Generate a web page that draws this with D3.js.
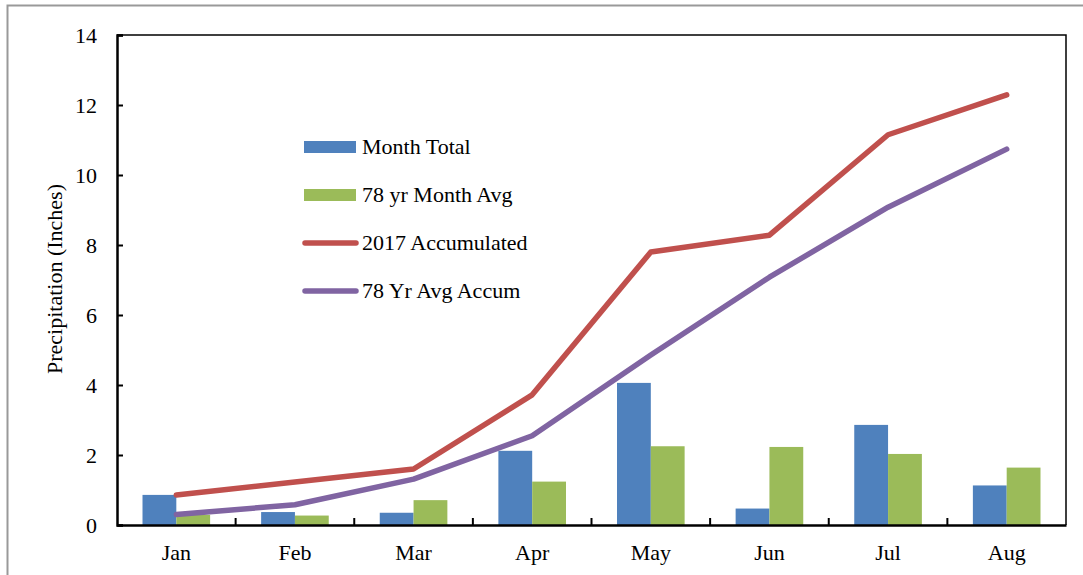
<!DOCTYPE html>
<html>
<head>
<meta charset="utf-8">
<script src="https://cdn.jsdelivr.net/npm/d3@7"></script>
<style>
  body { margin: 0; background: #fff; }
  text { font-family: "Liberation Serif", serif; fill: #000; }
</style>
</head>
<body>
<div id="chart"></div>
<script>
// values (inches)
var months = ['Jan', 'Feb', 'Mar', 'Apr', 'May', 'Jun', 'Jul', 'Aug'];
var monthTotal = [0.86, 0.37, 0.35, 2.12, 4.06, 0.47, 2.86, 1.13];
var monthAvg = [0.29, 0.27, 0.71, 1.24, 2.25, 2.23, 2.03, 1.64];
var accum2017 = [0.86, 1.23, 1.60, 3.72, 7.80, 8.28, 11.15, 12.29];
var avgAccum = [0.30, 0.58, 1.31, 2.55, 4.86, 7.08, 9.08, 10.74];
var yTicks = [0, 2, 4, 6, 8, 10, 12, 14];

var barSeries = [
    {name: 'Month Total', values: monthTotal, color: '#4F81BD'},
    {name: '78 yr Month Avg', values: monthAvg, color: '#9BBB59'}
];
var lineSeries = [
    {name: '2017 Accumulated', values: accum2017, color: '#C0504D'},
    {name: '78 Yr Avg Accum', values: avgAccum, color: '#8064A2'}
];

var width = 1083, height = 575;
var plot = {left: 117, right: 1066, top: 35, bottom: 525};

var svg = d3.select('#chart')
    .append('svg')
    .attr('width', width)
    .attr('height', height);

// outer frame
svg.append('rect')
    .attr('x', 7.5).attr('y', 5.5)
    .attr('width', width).attr('height', height)
    .attr('fill', 'none')
    .attr('stroke', '#999')
    .attr('stroke-width', 2);

var x0 = d3.scaleBand().domain(months).range([plot.left, plot.right]).paddingInner(0.43).paddingOuter(0.215);
var x1 = d3.scaleBand().domain(barSeries.map(d => d.name)).range([0, x0.bandwidth()]);
var xStep = d3.scaleBand().domain(months).range([plot.left, plot.right]);
var y = d3.scaleLinear().domain([0, 14]).range([plot.bottom, plot.top]);

// bars
barSeries.forEach(function (s) {
    svg.append('g').selectAll('rect')
        .data(s.values)
        .enter()
        .append('rect')
        .attr('x', (d, i) => x0(months[i]) + x1(s.name))
        .attr('y', d => y(d))
        .attr('width', x1.bandwidth())
        .attr('height', d => y(0) - y(d))
        .attr('fill', s.color);
});

// lines
var line = d3.line()
    .x((d, i) => xStep(months[i]) + xStep.bandwidth() / 2)
    .y(d => y(d));

lineSeries.forEach(function (s) {
    svg.append('path')
        .attr('d', line(s.values))
        .attr('fill', 'none')
        .attr('stroke', s.color)
        .attr('stroke-width', 5.5)
        .attr('stroke-linecap', 'round')
        .attr('stroke-linejoin', 'round');
});

// plot frame: thin top/right, heavier axes
svg.append('path')
    .attr('d', 'M' + plot.left + ',' + plot.top + 'H' + plot.right + 'V' + plot.bottom)
    .attr('fill', 'none')
    .attr('stroke', '#000')
    .attr('stroke-width', 1.5);

// y axis
var yAxis = svg.append('g')
    .attr('transform', 'translate(' + plot.left + ',0)')
    .call(d3.axisLeft(y).tickValues(yTicks).tickSize(-6).tickPadding(20));
yAxis.select('.domain').attr('stroke-width', 2.5);
yAxis.selectAll('.tick line').attr('stroke-width', 2);
yAxis.selectAll('text')
    .style('font-size', '22px')
    .style('font-family', '"Liberation Serif", serif');

// x axis
var xAxis = svg.append('g')
    .attr('transform', 'translate(0,' + plot.bottom + ')')
    .call(d3.axisBottom(xStep).tickSize(0).tickPadding(19));
xAxis.select('.domain').attr('stroke-width', 2.5);
xAxis.selectAll('text')
    .style('font-size', '22px')
    .style('font-family', '"Liberation Serif", serif');

// ticks between the months
svg.append('g').selectAll('line')
    .data(months.slice(1))
    .enter()
    .append('line')
    .attr('x1', d => xStep(d))
    .attr('x2', d => xStep(d))
    .attr('y1', plot.bottom)
    .attr('y2', plot.bottom - 7)
    .attr('stroke', '#000')
    .attr('stroke-width', 2);

// y title
svg.append('text')
    .attr('transform', 'translate(62,' + 279 + ') rotate(-90)')
    .attr('text-anchor', 'middle')
    .style('font-size', '22px')
    .text('Precipitation (Inches)');

// legend
var legendItems = barSeries.map(d => ({name: d.name, color: d.color, type: 'bar'}))
    .concat(lineSeries.map(d => ({name: d.name, color: d.color, type: 'line'})));

var legend = svg.append('g').attr('transform', 'translate(304,147)');
var rows = legend.selectAll('g')
    .data(legendItems)
    .enter()
    .append('g')
    .attr('transform', (d, i) => 'translate(0,' + i * 48 + ')');

rows.filter(d => d.type === 'bar')
    .append('rect')
    .attr('x', 0).attr('y', -6)
    .attr('width', 52).attr('height', 12)
    .attr('fill', d => d.color);

rows.filter(d => d.type === 'line')
    .append('line')
    .attr('x1', 1).attr('x2', 52)
    .attr('stroke', d => d.color)
    .attr('stroke-width', 5.5)
    .attr('stroke-linecap', 'round');

rows.append('text')
    .attr('x', 58)
    .attr('y', 7)
    .style('font-size', '22px')
    .text(d => d.name);
</script>
</body>
</html>
